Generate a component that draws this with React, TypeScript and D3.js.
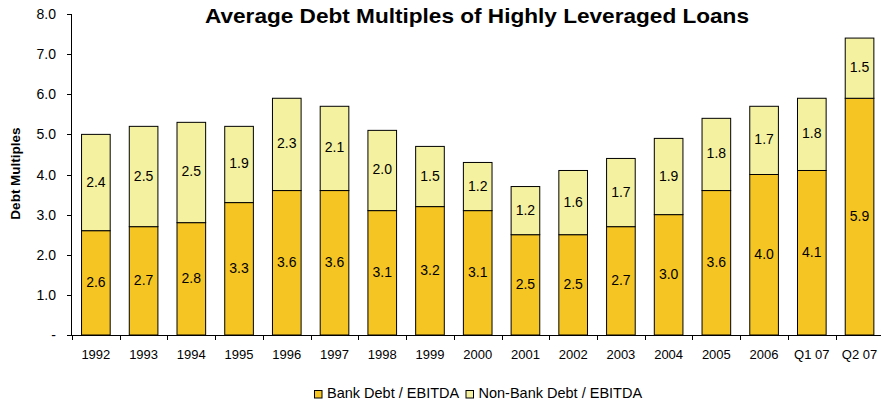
import React from "react";
import * as d3 from "d3";

const categories = ["1992","1993","1994","1995","1996","1997","1998","1999","2000","2001","2002","2003","2004","2005","2006","Q1 07","Q2 07"];
const bankDebt = [2.6,2.7,2.8,3.3,3.6,3.6,3.1,3.2,3.1,2.5,2.5,2.7,3.0,3.6,4.0,4.1,5.9];
const nonBankDebt = [2.4,2.5,2.5,1.9,2.3,2.1,2.0,1.5,1.2,1.2,1.6,1.7,1.9,1.8,1.7,1.8,1.5];
const yTicks = [0,1,2,3,4,5,6,7,8];
const seriesNames = ["Bank Debt / EBITDA", "Non-Bank Debt / EBITDA"];
const colors = ["#F5C623", "#F4F1A1"];

const W = 881, H = 406;
const FONT = "Arial, 'Liberation Sans', sans-serif";

export default function App() {
  const x0 = 72;
  const band = 47.73;
  const x = d3.scaleBand<string>().domain(categories).range([x0, x0 + band * categories.length]).paddingInner(0).paddingOuter(0);
  const y = d3.scaleLinear().domain([0, 8]).range([335, 14]);
  const bw = x.bandwidth() * 0.6;

  const data = categories.map((c, i) => ({ cat: c, bank: bankDebt[i], non: nonBankDebt[i] }));
  const stack = d3.stack<any>().keys(["bank", "non"])(data);

  return (
    <svg width={W} height={H} style={{ position: "absolute", left: 0, top: 0, background: "#fff" }} fontFamily={FONT}>
      <text x={477} y={22.5} textAnchor="middle" fontSize={21} fontWeight="bold" textLength={544} lengthAdjust="spacingAndGlyphs">Average Debt Multiples of Highly Leveraged Loans</text>
      <text transform={`translate(19.7,${173.5}) rotate(-90)`} textAnchor="middle" fontSize={13.5} fontWeight="bold">Debt Multiples</text>
      {/* y axis */}
      <line x1={71.5} x2={71.5} y1={y(8)} y2={y(0)} stroke="#000" />
      {yTicks.map(t => (
        <g key={t}>
          <line x1={67} x2={71.5} y1={Math.round(y(t)) + 0.5} y2={Math.round(y(t)) + 0.5} stroke="#000" />
          <text x={56} y={y(t) + 5} textAnchor="end" fontSize={14}>{t === 0 ? "-" : d3.format(".1f")(t)}</text>
        </g>
      ))}
      {/* bars */}
      {stack.map((s, si) => (
        <g key={si}>
          {s.map((d, i) => {
            const cx = (x(categories[i]) as number) + x.bandwidth() / 2;
            const top = y(d[1]), bot = y(d[0]);
            const v = si === 0 ? bankDebt[i] : nonBankDebt[i];
            return (
              <g key={i}>
                <rect x={cx - bw / 2} y={top} width={bw} height={bot - top} fill={colors[si]} stroke="#000" strokeWidth={1} />
                <text x={cx} y={(top + bot) / 2 + 4} textAnchor="middle" fontSize={14}>{d3.format(".1f")(v)}</text>
              </g>
            );
          })}
        </g>
      ))}
      {/* x axis */}
      <line x1={71} x2={W} y1={335.5} y2={335.5} stroke="#000" />
      {categories.map((c, i) => {
        const xl = (x(c) as number);
        return (
          <g key={c}>
            <line x1={Math.round(xl) + 0.5} x2={Math.round(xl) + 0.5} y1={335.5} y2={340} stroke="#000" />
            <text x={xl + x.bandwidth() / 2} y={359} textAnchor="middle" fontSize={13}>{c}</text>
          </g>
        );
      })}
      {/* legend */}
      {seriesNames.map((n, i) => {
        const lx = i === 0 ? 314.5 : 466;
        return (
          <g key={n}>
            <rect x={lx} y={390.5} width={7.5} height={7.5} fill={colors[i]} stroke="#000" />
            <text x={lx + 12.5} y={398} fontSize={14.5}>{n}</text>
          </g>
        );
      })}
    </svg>
  );
}
